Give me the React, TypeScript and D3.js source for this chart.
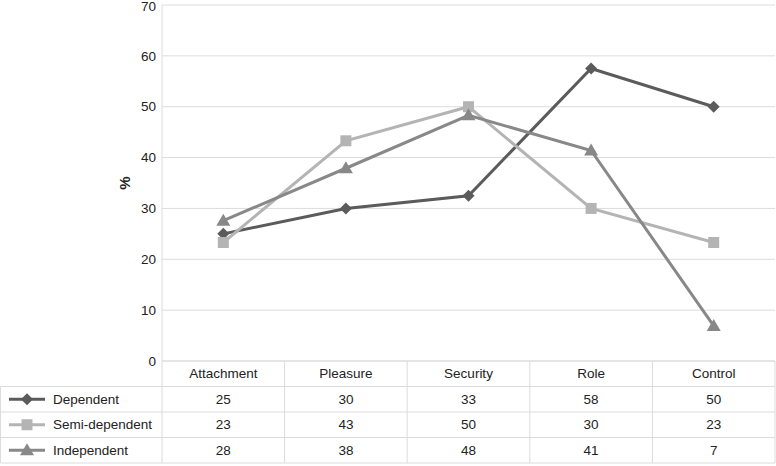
import React from "react";
import * as d3 from "d3";

const categories = ["Attachment", "Pleasure", "Security", "Role", "Control"];
const seriesNames = ["Dependent", "Semi-dependent", "Independent"];
const dependent = [25, 30, 32.5, 57.5, 50];
const semiDependent = [23.3, 43.3, 50, 30, 23.3];
const independent = [27.6, 37.9, 48.3, 41.4, 6.9];
const yTicks = [0, 10, 20, 30, 40, 50, 60, 70];
const colors = ["#5b5b5b", "#b4b4b4", "#888888"];
const markers = ["diamond", "square", "triangle"];

const W = 776;
const H = 466;
const left = 162;
const right = 775;
const top = 5;
const bottom = 361;
const rowH = 25.5;
const FONT = "'Liberation Sans', Arial, sans-serif";
const GRID = "#dcdcdc";
const FS = 13.5;

function Marker({ type, x, y, color }: { type: string; x: number; y: number; color: string }) {
  if (type === "diamond") {
    const r = 6;
    return <path d={`M${x},${y - r}L${x + r},${y}L${x},${y + r}L${x - r},${y}Z`} fill={color} />;
  }
  if (type === "square") {
    const s = 11;
    return <rect x={x - s / 2} y={y - s / 2} width={s} height={s} fill={color} />;
  }
  const r = 7;
  return <path d={`M${x},${y - r}L${x + r},${y + 5}L${x - r},${y + 5}Z`} fill={color} />;
}

export default function App() {
  const data = [dependent, semiDependent, independent];
  const x = d3.scaleBand<string>().domain(categories).range([left, right]);
  const y = d3.scaleLinear().domain([0, 70]).range([bottom, top]);
  const line = d3
    .line<number>()
    .x((_, i) => (x(categories[i]) as number) + x.bandwidth() / 2)
    .y((d) => y(d));

  const rowsTop = bottom;
  return (
    <svg
      width={W}
      height={H}
      style={{ position: "absolute", left: 0, top: 0, background: "#fff" }}
      fontFamily={FONT}
    >
      {yTicks.map((t) => (
        <g key={t}>
          <line x1={left} x2={right} y1={y(t)} y2={y(t)} stroke={GRID} strokeWidth={1} />
          <text
            x={156}
            y={t === 70 ? y(t) + 1.5 : y(t)}
            dy="0.35em"
            textAnchor="end"
            fontSize={FS}
            fill="#222"
          >
            {t}
          </text>
        </g>
      ))}
      <line x1={left} x2={left} y1={top} y2={bottom} stroke={GRID} />
      <text
        transform={`translate(130,${(top + bottom) / 2}) rotate(-90)`}
        textAnchor="middle"
        fontSize={15}
        fontWeight="bold"
        fill="#222"
      >
        %
      </text>

      {/* table */}
      <line x1={left} x2={right} y1={rowsTop} y2={rowsTop} stroke={GRID} />
      {[1, 2, 3, 4].map((r) => (
        <line key={r} x1={0.5} x2={right} y1={rowsTop + r * rowH} y2={rowsTop + r * rowH} stroke={GRID} />
      ))}
      <line x1={0.5} x2={0.5} y1={rowsTop + rowH} y2={rowsTop + 4 * rowH} stroke={GRID} />
      {categories.map((c, i) => (
        <g key={c}>
          <line
            x1={(x(c) as number)}
            x2={(x(c) as number)}
            y1={rowsTop}
            y2={rowsTop + 4 * rowH}
            stroke={GRID}
          />
          <text
            x={(x(c) as number) + x.bandwidth() / 2}
            y={rowsTop + rowH / 2}
            dy="0.35em"
            textAnchor="middle"
            fontSize={FS}
            fill="#222"
          >
            {c}
          </text>
          {i === categories.length - 1 && (
            <line x1={right} x2={right} y1={rowsTop} y2={rowsTop + 4 * rowH} stroke={GRID} />
          )}
        </g>
      ))}
      {data.map((vals, si) => {
        const ry = rowsTop + (si + 1) * rowH + rowH / 2;
        return (
          <g key={si}>
            <line x1={9} x2={45} y1={ry} y2={ry} stroke={colors[si]} strokeWidth={3} />
            <Marker type={markers[si]} x={27} y={ry} color={colors[si]} />
            <text x={53} y={ry} dy="0.35em" fontSize={FS} fill="#222">
              {seriesNames[si]}
            </text>
            {vals.map((v, i) => (
              <text
                key={i}
                x={(x(categories[i]) as number) + x.bandwidth() / 2}
                y={ry}
                dy="0.35em"
                textAnchor="middle"
                fontSize={FS}
                fill="#222"
              >
                {Math.round(v)}
              </text>
            ))}
          </g>
        );
      })}

      {/* lines */}
      {data.map((vals, si) => (
        <g key={si}>
          <path d={line(vals) as string} fill="none" stroke={colors[si]} strokeWidth={3} />
          {vals.map((v, i) => (
            <Marker
              key={i}
              type={markers[si]}
              x={(x(categories[i]) as number) + x.bandwidth() / 2}
              y={y(v)}
              color={colors[si]}
            />
          ))}
        </g>
      ))}
    </svg>
  );
}
